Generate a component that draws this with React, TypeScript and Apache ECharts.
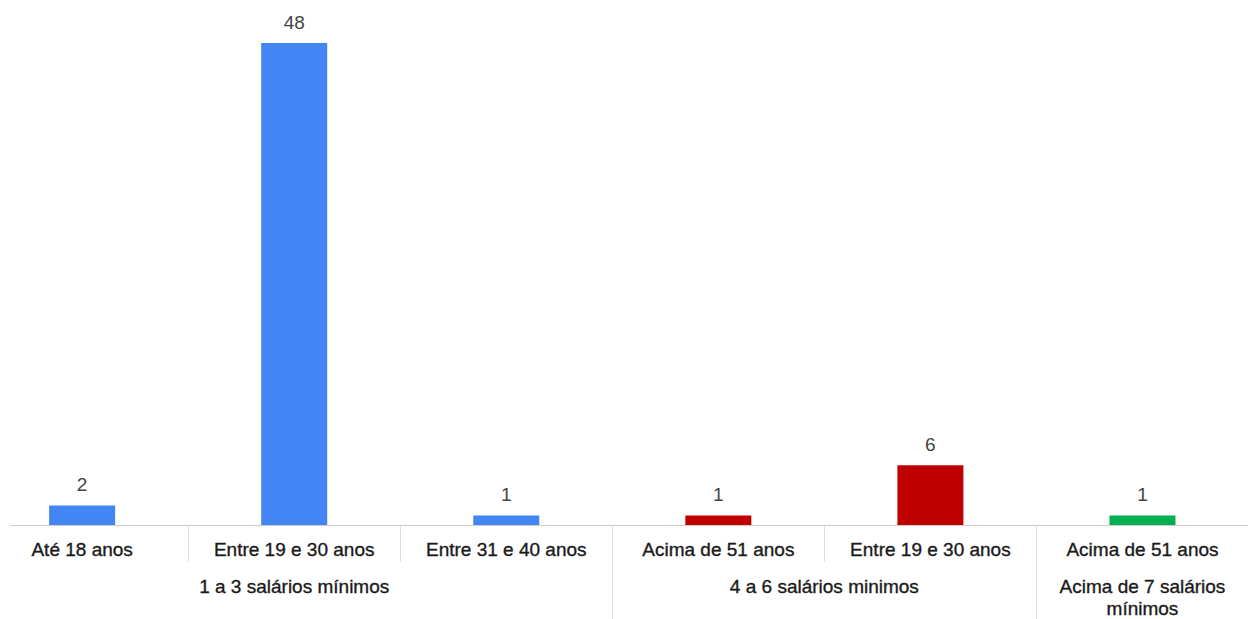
import { useEffect, useRef } from "react";
import * as echarts from "echarts";

// Faixa etária por faixa salarial
const categories = [
  "Até 18 anos",
  "Entre 19 e 30 anos",
  "Entre 31 e 40 anos",
  "Acima de 51 anos",
  "Entre 19 e 30 anos",
  "Acima de 51 anos",
];
const values = [2, 48, 1, 1, 6, 1];
const barColors = ["#4285F4", "#4285F4", "#4285F4", "#C00000", "#C00000", "#00B050"];

// Grupos salariais: posição central (em índices de categoria) e rótulo
const groupCenters = [1, 3.5, 5];
const groupLabels = ["1 a 3 salários mínimos", "4 a 6 salários minimos", "Acima de 7 salários\nmínimos"];
const groupBoundaries = [2.5, 4.5];

const FONT = "Liberation Sans, Arial, sans-serif";

export default function App() {
  const ref = useRef<HTMLDivElement>(null);

  useEffect(() => {
    document.body.style.margin = "0";
    const chart = echarts.init(ref.current!, null, { renderer: "svg" });
    const gridTop = 23;
    const gridBottom = 93.5;
    const height = 619;
    const axisText = {
      color: "#1a1a1a",
      fontSize: 19,
      fontFamily: FONT,
      textBorderColor: "#1a1a1a",
      textBorderWidth: 0.35,
    };
    chart.setOption({
      animation: false,
      backgroundColor: "#ffffff",
      grid: {
        left: -23.9,
        right: -0.5,
        top: gridTop,
        bottom: gridBottom,
        containLabel: false,
        outerBoundsMode: "none",
      },
      xAxis: [
        {
          type: "category",
          data: categories,
          position: "bottom",
          axisLine: { show: false },
          axisTick: { show: true, length: 36, lineStyle: { color: "#dcdcdc", width: 1 } },
          axisLabel: { ...axisText, margin: 14, interval: 0 },
        },
        {
          type: "value",
          min: -0.5,
          max: 5.5,
          position: "bottom",
          offset: 0,
          splitLine: { show: false },
          axisLine: { show: false },
          axisTick: {
            show: true,
            length: 94,
            customValues: groupBoundaries,
            lineStyle: { color: "#dcdcdc", width: 1 },
          },
          axisLabel: {
            ...axisText,
            customValues: groupCenters,
            margin: 50,
            lineHeight: 22,
            verticalAlign: "top",
            formatter: (v: number) => {
              const i = groupCenters.indexOf(v);
              return i >= 0 ? groupLabels[i] : "";
            },
          },
        },
      ],
      yAxis: { type: "value", min: 0, max: 50, show: false },
      graphic: [
        {
          type: "line",
          shape: { x1: 10, y1: height - gridBottom, x2: 1248, y2: height - gridBottom },
          style: { stroke: "#cccccc", lineWidth: 1 },
          z: 10,
        },
      ],
      series: [
        {
          type: "bar",
          xAxisIndex: 0,
          barWidth: 66,
          data: values.map((v, i) => ({ value: v, itemStyle: { color: barColors[i] } })),
          label: {
            show: true,
            position: "top",
            distance: 11,
            color: "#444444",
            fontSize: 19,
            fontFamily: FONT,
          },
        },
      ],
    });
    return () => chart.dispose();
  }, []);

  return <div ref={ref} style={{ width: 1248, height: 619 }} />;
}
